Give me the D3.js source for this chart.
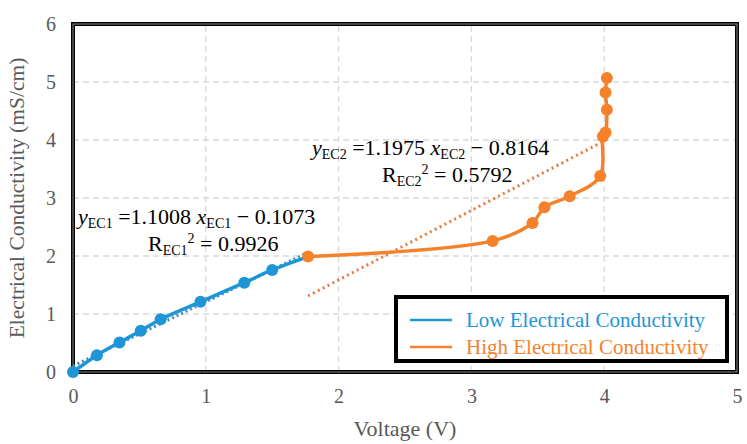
<!DOCTYPE html>
<html>
<head>
<meta charset="utf-8">
<script src="https://cdn.jsdelivr.net/npm/d3@7"></script>
<style>
  body { margin: 0; background: #fff; }
</style>
</head>
<body>
<div id="chart"></div>
<script>
// Low electrical conductivity series (voltage V, EC mS/cm)
const lowX = [0, 0.18, 0.35, 0.51, 0.66, 0.96, 1.29, 1.50, 1.77];
const lowY = [0, 0.29, 0.51, 0.71, 0.91, 1.21, 1.54, 1.76, 1.99];
// High electrical conductivity series
const highX = [1.77, 3.16, 3.46, 3.55, 3.74, 3.97, 3.99, 4.01, 4.02, 4.01, 4.02];
const highY = [1.99, 2.26, 2.57, 2.84, 3.03, 3.38, 4.06, 4.13, 4.52, 4.82, 5.07];
// trendline labels as printed on the chart
const fit1 = {a: "1.1008", b: "0.1073", r2: "0.9926"};
const fit2 = {a: "1.1975", b: "0.8164", r2: "0.5792"};
const xTicks = [0, 1, 2, 3, 4, 5];
const yTicks = [0, 1, 2, 3, 4, 5, 6];
const seriesNames = ["Low Electrical Conductivity", "High Electrical Conductivity"];

const width = 747, height = 444;
const margin = {top: 24, right: 10, bottom: 72, left: 73};
const blue = "#1e96d6", orange = "#f5822a";
const serif = "Liberation Serif";

const svg = d3.select("#chart").append("svg")
    .attr("width", width)
    .attr("height", height)
    .attr("font-family", serif);

const x = d3.scaleLinear().domain([0, 5]).range([margin.left, width - margin.right]);
const y = d3.scaleLinear().domain([0, 6]).range([height - margin.bottom, margin.top]);

svg.append("clipPath").attr("id", "clip")
  .append("rect")
    .attr("x", x(0)).attr("y", y(6))
    .attr("width", x(5) - x(0)).attr("height", y(0) - y(6));

// gridlines
svg.append("g").selectAll("line")
  .data(xTicks.slice(1, -1))
  .join("line")
    .attr("x1", d => x(d)).attr("x2", d => x(d))
    .attr("y1", y(0)).attr("y2", y(6))
    .attr("stroke", "#d9d9d9").attr("stroke-width", 1.3)
    .attr("stroke-dasharray", "6,4");
svg.append("g").selectAll("line")
  .data(yTicks.slice(1, -1))
  .join("line")
    .attr("x1", x(0)).attr("x2", x(5))
    .attr("y1", d => y(d)).attr("y2", d => y(d))
    .attr("stroke", "#d9d9d9").attr("stroke-width", 1.3)
    .attr("stroke-dasharray", "6,4");

// frame (double line look)
svg.append("rect")
    .attr("x", x(0)).attr("y", y(6))
    .attr("width", x(5) - x(0)).attr("height", y(0) - y(6))
    .attr("fill", "none").attr("stroke", "#000").attr("stroke-width", 4);
svg.append("rect")
    .attr("x", x(0)).attr("y", y(6))
    .attr("width", x(5) - x(0)).attr("height", y(0) - y(6))
    .attr("fill", "none").attr("stroke", "#aaa").attr("stroke-width", 0.8);

// axes
const xAxis = svg.append("g")
    .attr("transform", `translate(0,${y(0)})`)
    .call(d3.axisBottom(x).tickValues(xTicks).tickSize(0).tickPadding(17).tickFormat(d3.format("d")));
const yAxis = svg.append("g")
    .attr("transform", `translate(${x(0)},0)`)
    .call(d3.axisLeft(y).tickValues(yTicks).tickSize(0).tickPadding(17).tickFormat(d3.format("d")));
[xAxis, yAxis].forEach(g => {
  g.attr("font-family", serif).attr("font-size", 20);
  g.select(".domain").remove();
  g.selectAll("text").attr("fill", "#595959");
});

svg.append("text")
    .attr("x", (x(0) + x(5)) / 2).attr("y", 436)
    .attr("text-anchor", "middle")
    .attr("fill", "#595959").attr("font-size", 22)
    .text("Voltage (V)");
svg.append("text")
    .attr("transform", `translate(24,${(y(0) + y(6)) / 2}) rotate(-90)`)
    .attr("text-anchor", "middle")
    .attr("fill", "#595959").attr("font-size", 21.5)
    .text("Electrical Conductivity (mS/cm)");

const plot = svg.append("g").attr("clip-path", "url(#clip)");

const lowData = lowX.map((v, i) => [v, lowY[i]]);
const highData = highX.map((v, i) => [v, highY[i]]);

// least-squares trendline over a series, drawn across its x range
function fitLine(data) {
  const mx = d3.mean(data, d => d[0]), my = d3.mean(data, d => d[1]);
  const a = d3.sum(data, d => (d[0] - mx) * (d[1] - my)) / d3.sum(data, d => (d[0] - mx) ** 2);
  const b = my - a * mx;
  const [x0, x1] = d3.extent(data, d => d[0]);
  return [[x0, a * x0 + b], [x1, a * x1 + b]];
}
const lineXY = d3.line().x(d => x(d[0])).y(d => y(d[1]));
plot.append("path")
    .attr("d", lineXY(fitLine(lowData)))
    .attr("fill", "none").attr("stroke", "#3d8fc4").attr("stroke-width", 3)
    .attr("stroke-dasharray", "2,3");
plot.append("path")
    .attr("d", lineXY(fitLine(highData)))
    .attr("fill", "none").attr("stroke", "#e47a3c").attr("stroke-width", 3)
    .attr("stroke-dasharray", "2,3.5");

// series lines
const line = d3.line().x(d => x(d[0])).y(d => y(d[1])).curve(d3.curveCatmullRom.alpha(0.5));

const series = [
  {data: lowData, color: blue, marks: lowData.slice(0, -1)},
  {data: highData, color: orange, marks: highData}
];
series.forEach(s => {
  plot.append("path")
      .attr("d", line(s.data))
      .attr("fill", "none").attr("stroke", s.color).attr("stroke-width", 3.5);
});
series.forEach(s => {
  svg.append("g").selectAll("circle")
    .data(s.marks)
    .join("circle")
      .attr("cx", d => x(d[0])).attr("cy", d => y(d[1]))
      .attr("r", 6).attr("fill", s.color);
});

// equation labels
function equation(xPos, yPos, name, f) {
  const t1 = svg.append("text").attr("x", xPos).attr("y", yPos).attr("font-size", 22).attr("fill", "#000");
  t1.append("tspan").attr("font-style", "italic").text("y");
  t1.append("tspan").attr("dy", 4).attr("font-size", 14).text(name);
  t1.append("tspan").attr("dy", -4).text(` =${f.a} `);
  t1.append("tspan").attr("font-style", "italic").text("x");
  t1.append("tspan").attr("dy", 4).attr("font-size", 14).text(name);
  t1.append("tspan").attr("dy", -4).text(` \u2212 ${f.b}`);
}
function rsq(xPos, yPos, name, f) {
  const t2 = svg.append("text").attr("x", xPos).attr("y", yPos).attr("font-size", 22).attr("fill", "#000");
  t2.append("tspan").text("R");
  t2.append("tspan").attr("dy", 4).attr("font-size", 14).text(name);
  t2.append("tspan").attr("dy", -12).attr("font-size", 14).text("2");
  t2.append("tspan").attr("dy", 8).text(` = ${f.r2}`);
}
equation(78, 224, "EC1", fit1);
rsq(148, 251, "EC1", fit1);
equation(312, 155, "EC2", fit2);
rsq(382, 182, "EC2", fit2);

// legend
const lg = svg.append("g");
lg.append("rect")
    .attr("x", 396).attr("y", 297).attr("width", 331).attr("height", 64)
    .attr("fill", "#fff").attr("stroke", "#000").attr("stroke-width", 4);
seriesNames.forEach((n, i) => {
  const c = i === 0 ? blue : orange;
  const yy = 320 + i * 27;
  lg.append("line")
      .attr("x1", 410).attr("x2", 452).attr("y1", yy).attr("y2", yy)
      .attr("stroke", c).attr("stroke-width", 2.5);
  lg.append("text")
      .attr("x", 466).attr("y", yy + 7)
      .attr("fill", c).attr("font-size", 21)
      .text(n);
});
</script>
</body>
</html>
